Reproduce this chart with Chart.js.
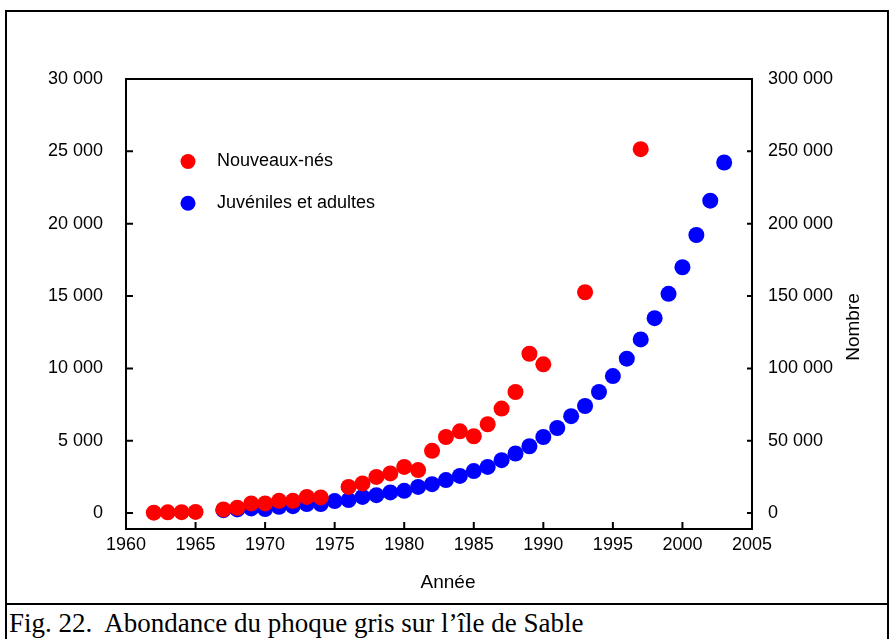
<!DOCTYPE html>
<html>
<head>
<meta charset="utf-8">
<script src="https://cdn.jsdelivr.net/npm/chart.js@4/dist/chart.umd.min.js"></script>
<style>
  html, body { margin: 0; padding: 0; background: #fff; width: 894px; height: 639px; overflow: hidden; }
  #frame { position: absolute; left: 5px; top: 10px; width: 880px; height: 700px; border: 2px solid #000; }
  #divider { position: absolute; left: 5px; top: 603px; width: 884px; height: 2px; background: #000; }
  #wrap { position: absolute; left: 0; top: 0; width: 894px; height: 600px; }
  #caption { position: absolute; left: 9px; top: 610px; font-family: "Liberation Serif", "Times New Roman", serif; font-size: 27px; line-height: 27px; color: #000; white-space: pre; }
</style>
</head>
<body>
<div id="frame"></div>
<div id="divider"></div>
<div id="wrap"><canvas id="c" width="894" height="600"></canvas></div>
<div id="caption">Fig. 22.  Abondance du phoque gris sur l’île de Sable</div>
<script>
// ---- Data ----
const pupYears  = [1962,1963,1964,1965,1967,1968,1969,1970,1971,1972,1973,1974,1976,1977,1978,1979,1980,1981,1982,1983,1984,1985,1986,1987,1988,1989,1990,1993,1997];
const pupCounts = [30,50,60,80,250,370,670,670,850,850,1120,1080,1810,2050,2500,2740,3190,2970,4300,5260,5650,5310,6140,7220,8370,11010,10280,15260,25150];

const adultYears  = [1967,1968,1969,1970,1971,1972,1973,1974,1975,1976,1977,1978,1979,1980,1981,1982,1983,1984,1985,1986,1987,1988,1989,1990,1991,1992,1993,1994,1995,1996,1997,1998,1999,2000,2001,2002,2003];
const adultCounts = [2000,2500,3200,2800,4300,4800,6200,6200,8300,9000,11200,12400,14300,15400,18100,20000,22800,25700,29000,31900,36600,41200,46200,52600,58800,67000,74000,83700,94700,106700,120000,134700,151500,169900,192200,215900,242300];

const seriesLabels = ['Nouveaux-nés', 'Juvéniles et adultes'];
const xTickValues = [1960,1965,1970,1975,1980,1985,1990,1995,2000,2005];
const xTickLabels = ['1960','1965','1970','1975','1980','1985','1990','1995','2000','2005'];
const leftTickValues = [0,5000,10000,15000,20000,25000,30000];
const leftTickLabels = ['0','5 000','10 000','15 000','20 000','25 000','30 000'];
const rightTickValues = [0,50000,100000,150000,200000,250000,300000];
const rightTickLabels = ['0','50 000','100 000','150 000','200 000','250 000','300 000'];
const xTitle = 'Année';
const rightTitle = 'Nombre';

const FONT = '"Liberation Sans", Arial, Helvetica, sans-serif';

function pts(xs, ys) { return xs.map((x, i) => ({ x: x, y: ys[i] })); }
function setTicks(values) { return function (scale) { scale.ticks = values.map(v => ({ value: v })); }; }
function labelFrom(values, labels) { return function (v) { const i = values.indexOf(v); return i >= 0 ? labels[i] : ''; }; }

const framePlugin = {
  id: 'framePlugin',
  beforeDatasetsDraw(chart) {
    const ctx = chart.ctx, a = chart.chartArea;
    const sx = chart.scales.x, sy = chart.scales.y, sy2 = chart.scales.y2;
    ctx.save();
    ctx.strokeStyle = '#000';
    ctx.lineWidth = 2;
    ctx.strokeRect(a.left, a.top, a.right - a.left, a.bottom - a.top);
    ctx.beginPath();
    xTickValues.forEach(v => { const p = sx.getPixelForValue(v); ctx.moveTo(p, a.bottom); ctx.lineTo(p, a.bottom - 7); });
    leftTickValues.forEach(v => { const p = sy.getPixelForValue(v); ctx.moveTo(a.left, p); ctx.lineTo(a.left + 7, p); });
    rightTickValues.forEach(v => { const p = sy2.getPixelForValue(v); ctx.moveTo(a.right, p); ctx.lineTo(a.right - 5, p); });
    ctx.stroke();
    ctx.restore();
  },
  afterDraw(chart) {
    const ctx = chart.ctx, a = chart.chartArea;
    ctx.save();
    ctx.fillStyle = '#000';
    ctx.font = '19px ' + FONT;
    // x axis title
    ctx.textAlign = 'center';
    ctx.textBaseline = 'alphabetic';
    ctx.fillText(xTitle, a.left + 322, 588);
    // right axis title (reads bottom to top)
    ctx.save();
    ctx.translate(859, 327);
    ctx.rotate(-Math.PI / 2);
    ctx.textAlign = 'center';
    ctx.fillText(rightTitle, 0, 0);
    ctx.restore();
    // legend
    ctx.font = '18px ' + FONT;
    chart.data.datasets.forEach((ds, i) => {
      const cx = a.left + 62, cy = a.top + 82.5 + i * 41.7;
      ctx.beginPath();
      ctx.fillStyle = ds.backgroundColor;
      ctx.arc(cx, cy, 7.5, 0, Math.PI * 2);
      ctx.fill();
      ctx.fillStyle = '#000';
      ctx.textAlign = 'left';
      ctx.fillText(ds.label, a.left + 91, cy + 4.5);
    });
    ctx.restore();
  }
};

const noGrid = { display: false, drawTicks: false, tickLength: 0 };

new Chart(document.getElementById('c'), {
  type: 'scatter',
  data: {
    datasets: [
      { label: seriesLabels[0], data: pts(pupYears, pupCounts), yAxisID: 'y',
        backgroundColor: '#ff0000', borderWidth: 0, pointRadius: 8, pointHoverRadius: 8 },
      { label: seriesLabels[1], data: pts(adultYears, adultCounts), yAxisID: 'y2',
        backgroundColor: '#0000ff', borderWidth: 0, pointRadius: 8, pointHoverRadius: 8 }
    ]
  },
  options: {
    responsive: false,
    animation: false,
    events: [],
    layout: { padding: { top: 79, left: 0, right: 0, bottom: 0 } },
    plugins: { legend: { display: false }, tooltip: { enabled: false }, title: { display: false } },
    scales: {
      x: {
        type: 'linear', position: 'bottom', min: 1960, max: 2005,
        grid: noGrid, border: { display: false },
        afterBuildTicks: setTicks(xTickValues),
        afterFit: s => { s.height = 71; },
        ticks: { autoSkip: false, maxRotation: 0, padding: 5, color: '#000', font: { family: FONT, size: 18 },
                 callback: labelFrom(xTickValues, xTickLabels) }
      },
      y: {
        type: 'linear', position: 'left', min: -1100, max: 30000,
        grid: noGrid, border: { display: false },
        afterBuildTicks: setTicks(leftTickValues),
        afterFit: s => { s.width = 126; },
        ticks: { padding: 23, color: '#000', font: { family: FONT, size: 18 },
                 callback: labelFrom(leftTickValues, leftTickLabels) }
      },
      y2: {
        type: 'linear', position: 'right', min: -11000, max: 300000,
        grid: noGrid, border: { display: false },
        afterBuildTicks: setTicks(rightTickValues),
        afterFit: s => { s.width = 142; },
        ticks: { padding: 16, color: '#000', font: { family: FONT, size: 18 },
                 callback: labelFrom(rightTickValues, rightTickLabels) }
      }
    }
  },
  plugins: [framePlugin]
});
</script>
</body>
</html>
